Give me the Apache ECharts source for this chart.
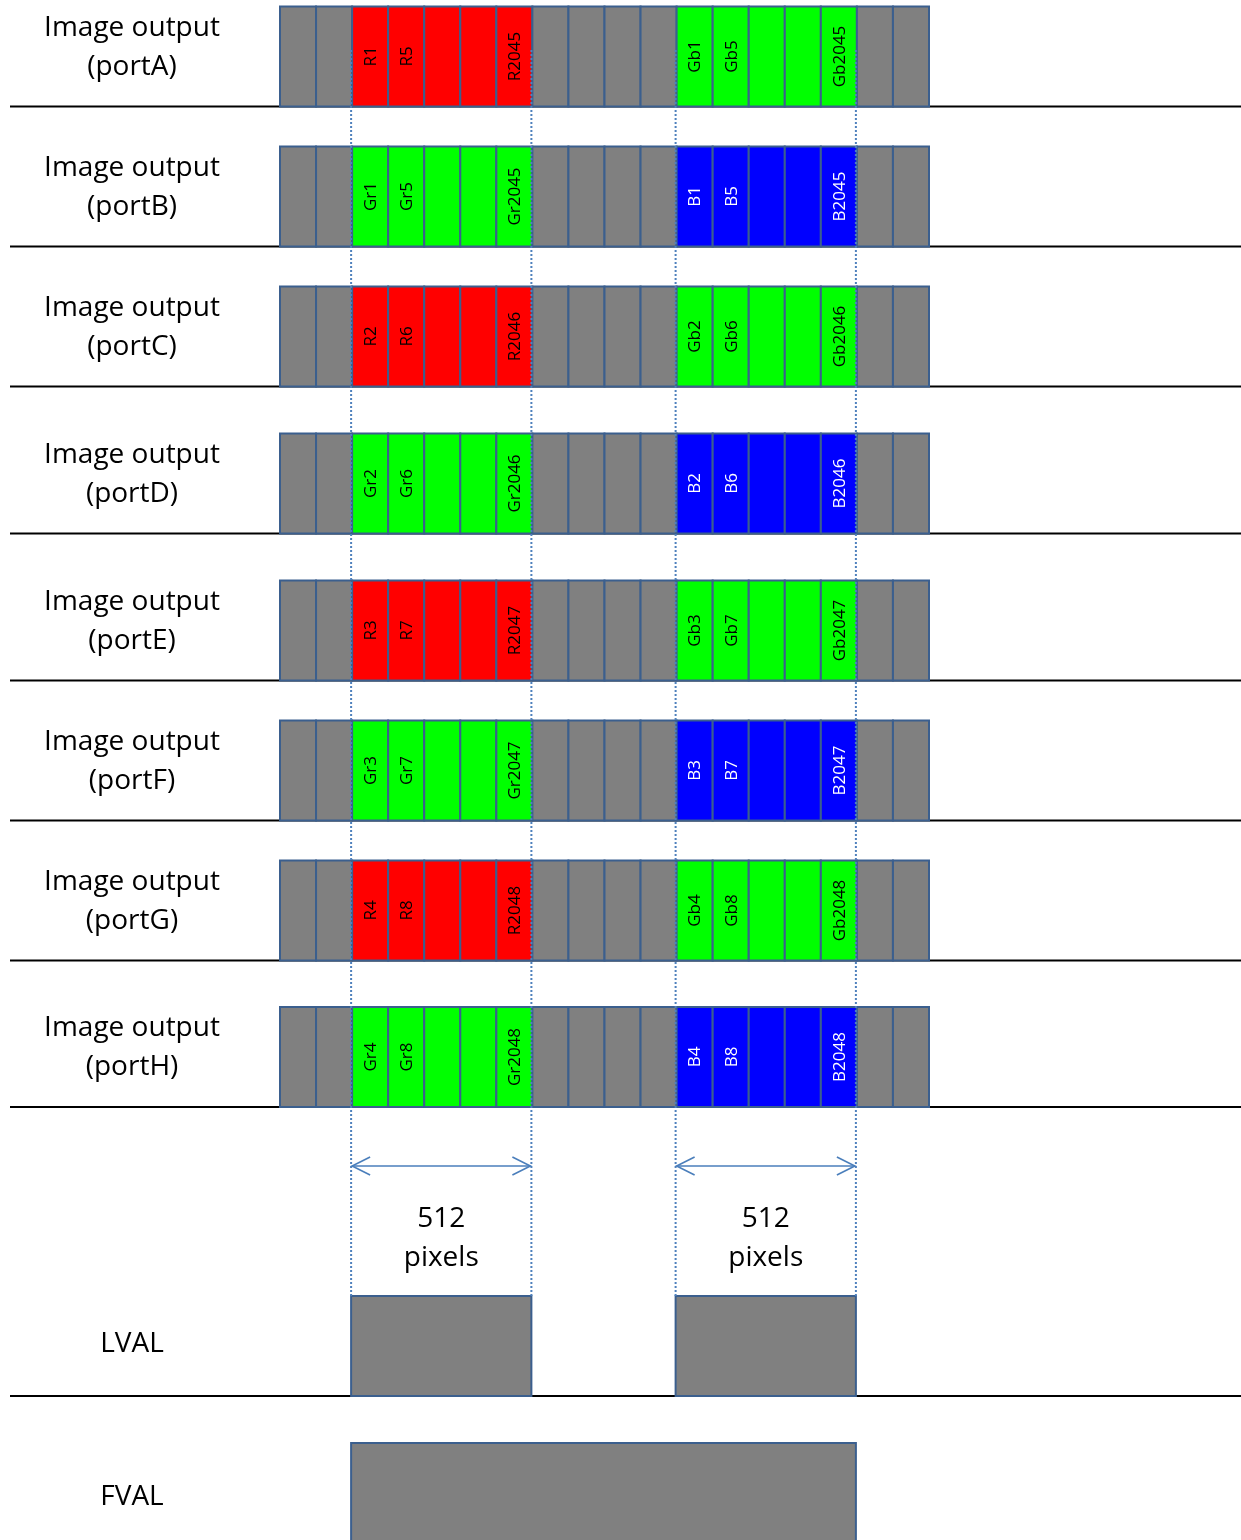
<!DOCTYPE html>
<html>
<head>
<meta charset="utf-8">
<script src="https://cdn.jsdelivr.net/npm/echarts@6/dist/echarts.min.js"></script>
<style>
  html, body { margin: 0; padding: 0; background: #fff; }
  #chart { width: 1241px; height: 1540px; }
</style>
</head>
<body>
<div id="chart"></div>
<script>
  // data of the diagram
  var ports = ['portA', 'portB', 'portC', 'portD', 'portE', 'portF', 'portG', 'portH'];
  var cellPattern = ['idle', 'idle', 'first', 'first', 'first', 'first', 'first', 'idle', 'idle',
                     'idle', 'idle', 'second', 'second', 'second', 'second', 'second', 'idle', 'idle'];
  var firstColor = ['red', 'green', 'red', 'green', 'red', 'green', 'red', 'green'];
  var secondColor = ['green', 'blue', 'green', 'blue', 'green', 'blue', 'green', 'blue'];
  var firstLabels = [
    ['R1', 'R5', '', '', 'R2045'],
    ['Gr1', 'Gr5', '', '', 'Gr2045'],
    ['R2', 'R6', '', '', 'R2046'],
    ['Gr2', 'Gr6', '', '', 'Gr2046'],
    ['R3', 'R7', '', '', 'R2047'],
    ['Gr3', 'Gr7', '', '', 'Gr2047'],
    ['R4', 'R8', '', '', 'R2048'],
    ['Gr4', 'Gr8', '', '', 'Gr2048']
  ];
  var secondLabels = [
    ['Gb1', 'Gb5', '', '', 'Gb2045'],
    ['B1', 'B5', '', '', 'B2045'],
    ['Gb2', 'Gb6', '', '', 'Gb2046'],
    ['B2', 'B6', '', '', 'B2046'],
    ['Gb3', 'Gb7', '', '', 'Gb2047'],
    ['B3', 'B7', '', '', 'B2047'],
    ['Gb4', 'Gb8', '', '', 'Gb2048'],
    ['B4', 'B8', '', '', 'B2048']
  ];
  var burstPixels = [512, 512];
  var lvalCells = [[2, 7], [11, 16]];
  var fvalCells = [[2, 16]];

  // layout (y in page pixels, x in cells)
  var ROW_BOTTOM = [106.5, 246.5, 386.5, 533.5, 680.5, 820.5, 960.5, 1107];
  var ROW_H = 100;
  var LVAL_BOTTOM = 1396, FVAL_BOTTOM = 1545, FVAL_TOP = 1443;
  var ARROW_Y = 1166;
  var DOT_TOP = 50;
  var FONT = '"Open Sans", "DejaVu Sans", sans-serif';
  var BORDER = '#3B5F8E';
  var GRAY = '#808080';
  var FILL = { red: '#FF0000', green: '#00FF00', blue: '#0000FF' };

  // cells data
  var cells = [];
  ports.forEach(function (p, r) {
    var a = 0, b = 0;
    cellPattern.forEach(function (kind, c) {
      if (kind === 'idle') cells.push([c, r, GRAY, '', '#000']);
      else if (kind === 'first') { var col = firstColor[r]; cells.push([c, r, FILL[col], firstLabels[r][a++], col === 'blue' ? '#fff' : '#000']); }
      else { var col2 = secondColor[r]; cells.push([c, r, FILL[col2], secondLabels[r][b++], col2 === 'blue' ? '#fff' : '#000']); }
    });
  });

  var edges = [];
  lvalCells.forEach(function (s) { edges.push(s[0], s[1]); });

  var myChart = echarts.init(document.getElementById('chart'));

  function line(x1, y1, x2, y2, style) {
    return { type: 'line', shape: { x1: x1, y1: y1, x2: x2, y2: y2 }, style: style };
  }

  myChart.setOption({
    animation: false,
    backgroundColor: '#fff',
    grid: { left: 280, right: 312, top: 0, bottom: 0 },
    xAxis: { type: 'value', min: 0, max: 18, show: false },
    yAxis: { type: 'value', min: 0, max: 1540, inverse: true, show: false },
    series: [
      {
        // baselines and row names
        type: 'custom', clip: false,
        data: ports.map(function (p, i) { return [i, p]; }).concat([[8, 'LVAL'], [9, 'FVAL']]),
        renderItem: function (params, api) {
          var i = api.value(0);
          var name = i < 8 ? 'Image output\n(' + ports[i] + ')' : (i === 8 ? 'LVAL' : 'FVAL');
          var yb = i < 8 ? ROW_BOTTOM[i] : (i === 8 ? LVAL_BOTTOM : FVAL_BOTTOM);
          var ys = api.coord([0, yb])[1];
          var yt = api.coord([0, i === 9 ? FVAL_TOP : yb - ROW_H])[1];
          var dy = i < 8 ? -9 : (i === 8 ? -2 : 3);
          var ch = [];
          if (i < 9) ch.push(line(10, ys, api.getWidth(), ys, { stroke: '#000', lineWidth: 2 }));
          ch.push({ type: 'text', x: 132, y: (ys + yt) / 2 + dy,
            style: { text: name, fontSize: 28, fontFamily: FONT, fill: '#000', align: 'center', verticalAlign: 'middle', lineHeight: 39 } });
          return { type: 'group', children: ch };
        }
      },
      {
        // pixel cells
        type: 'custom', clip: false,
        data: cells,
        renderItem: function (params, api) {
          var c = api.value(0), r = api.value(1);
          var d = cells[params.dataIndex];
          var p0 = api.coord([c, ROW_BOTTOM[r] - ROW_H]);
          var p1 = api.coord([c + 1, ROW_BOTTOM[r]]);
          return { type: 'group', children: [
            { type: 'rect', shape: { x: p0[0], y: p0[1], width: p1[0] - p0[0], height: p1[1] - p0[1] },
              style: { fill: d[2], stroke: BORDER, lineWidth: 2 } },
            { type: 'text', x: (p0[0] + p1[0]) / 2 + 1, y: (p0[1] + p1[1]) / 2, rotation: Math.PI / 2,
              style: { text: d[3], fill: d[4], fontSize: 17, fontFamily: FONT, align: 'center', verticalAlign: 'middle' } }
          ] };
        }
      },
      {
        // LVAL / FVAL pulses
        type: 'custom', clip: false,
        data: lvalCells.map(function (s) { return [s[0], s[1], 0]; }).concat(fvalCells.map(function (s) { return [s[0], s[1], 1]; })),
        renderItem: function (params, api) {
          var f = api.value(2);
          var p0 = api.coord([api.value(0), f ? FVAL_TOP : LVAL_BOTTOM - ROW_H]);
          var p1 = api.coord([api.value(1), f ? FVAL_BOTTOM : LVAL_BOTTOM]);
          return { type: 'rect', shape: { x: p0[0] - 1, y: p0[1], width: p1[0] - p0[0], height: p1[1] - p0[1] },
            style: { fill: GRAY, stroke: BORDER, lineWidth: 2 } };
        }
      },
      {
        // dotted guides
        type: 'custom', clip: false,
        data: edges.map(function (e) { return [e]; }),
        renderItem: function (params, api) {
          var p0 = api.coord([api.value(0), DOT_TOP]);
          var p1 = api.coord([api.value(0), LVAL_BOTTOM - ROW_H]);
          return line(p0[0] - 1, p0[1], p1[0] - 1, p1[1], { stroke: '#4F81BD', lineWidth: 2, lineDash: [2, 2] });
        }
      },
      {
        // width arrows
        type: 'custom', clip: false,
        data: lvalCells.map(function (s, i) { return [s[0], s[1], burstPixels[i]]; }),
        renderItem: function (params, api) {
          var p0 = api.coord([api.value(0), ARROW_Y]);
          var p1 = api.coord([api.value(1), ARROW_Y]);
          var st = { stroke: '#4A7EBB', lineWidth: 1.6, fill: 'none' };
          var x0 = p0[0], x1 = p1[0] - 2, y = p0[1];
          return { type: 'group', children: [
            line(x0, y, x1, y, st),
            { type: 'polyline', shape: { points: [[x0 + 18, y - 9], [x0, y], [x0 + 18, y + 9]] }, style: st },
            { type: 'polyline', shape: { points: [[x1 - 18, y - 9], [x1, y], [x1 - 18, y + 9]] }, style: st },
            { type: 'text', x: (x0 + x1) / 2, y: y + 73,
              style: { text: api.value(2) + '\npixels', fontSize: 28, fontFamily: FONT, fill: '#000', align: 'center', verticalAlign: 'middle', lineHeight: 39 } }
          ] };
        }
      }
    ]
  });
</script>
</body>
</html>
